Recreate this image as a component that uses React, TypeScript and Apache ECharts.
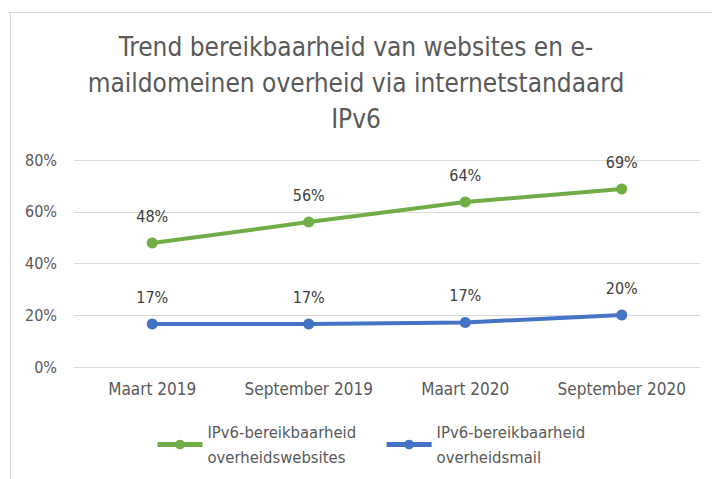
import React, { useEffect, useRef } from "react";
import * as echarts from "echarts";

const categories = ["Maart 2019", "September 2019", "Maart 2020", "September 2020"];
const websites = [47.9, 56.0, 63.8, 68.8];
const mail = [16.6, 16.6, 17.2, 20.1];
const seriesNames = [
  "IPv6-bereikbaarheid\noverheidswebsites",
  "IPv6-bereikbaarheid\noverheidsmail",
];
const titleText = "Trend bereikbaarheid van websites en e-\nmaildomeinen overheid via internetstandaard\nIPv6";

const FONT = "'DejaVu Sans Condensed', sans-serif";

export default function App() {
  const ref = useRef<HTMLDivElement>(null);
  useEffect(() => {
    const chart = echarts.init(ref.current!, null, { renderer: "svg" });
    chart.setOption({
      animation: false,
      backgroundColor: "#ffffff",
      textStyle: { fontFamily: FONT },
      title: {
        text: titleText,
        left: "center",
        top: 29,
        padding: [0, 0, 0, 24],
        textStyle: {
          fontFamily: FONT,
          fontSize: 26,
          fontWeight: "normal",
          color: "#595959",
          lineHeight: 36,
        },
      },
      graphic: [
        { type: "line", shape: { x1: 8, y1: 12.5, x2: 712, y2: 12.5 }, style: { stroke: "#d9d9d9", lineWidth: 1 } },
        { type: "line", shape: { x1: 10.5, y1: 12, x2: 10.5, y2: 479 }, style: { stroke: "#d9d9d9", lineWidth: 1 } },
      ],
      grid: { left: 74, right: 12, top: 160, bottom: 112 },
      xAxis: {
        type: "category",
        data: categories,
        axisLine: { show: true, lineStyle: { color: "#d9d9d9" } },
        axisTick: { show: false },
        axisLabel: { color: "#595959", fontSize: 17, fontFamily: FONT, margin: 13, interval: 0 },
      },
      yAxis: {
        type: "value",
        min: 0,
        max: 80,
        interval: 20,
        axisLabel: { color: "#595959", fontSize: 16, fontFamily: FONT, formatter: "{value}%", margin: 17 },
        splitLine: { lineStyle: { color: "#d9d9d9" } },
        axisLine: { show: false },
        axisTick: { show: false },
      },
      legend: {
        left: 155,
        top: 407,
        padding: 0,
        itemWidth: 45,
        itemHeight: 12,
        itemGap: 28,
        data: [
          { name: seriesNames[0], lineStyle: { width: 5 } },
          { name: seriesNames[1], lineStyle: { width: 5 } },
        ],
        textStyle: {
          color: "#595959",
          fontSize: 16.5,
          fontFamily: FONT,
          lineHeight: 25,
          padding: [25, 0, 0, 0],
        },
      },
      series: [
        {
          name: seriesNames[0],
          type: "line",
          data: websites,
          color: "#70AD47",
          lineStyle: { width: 4, color: "#70AD47" },
          symbol: "circle",
          symbolSize: 11,
          label: {
            show: true,
            position: "top",
            distance: 13,
            color: "#404040",
            fontSize: 16,
            fontFamily: FONT,
            formatter: (p: any) => Math.round(p.value) + "%",
          },
        },
        {
          name: seriesNames[1],
          type: "line",
          data: mail,
          color: "#4472C4",
          lineStyle: { width: 4, color: "#4472C4" },
          symbol: "circle",
          symbolSize: 11,
          label: {
            show: true,
            position: "top",
            distance: 13,
            color: "#404040",
            fontSize: 16,
            fontFamily: FONT,
            formatter: (p: any) => Math.round(p.value) + "%",
          },
        },
      ],
    });
    return () => chart.dispose();
  }, []);
  return (
    <div
      ref={ref}
      style={{ position: "fixed", left: 0, top: 0, width: 712, height: 479 }}
    />
  );
}
